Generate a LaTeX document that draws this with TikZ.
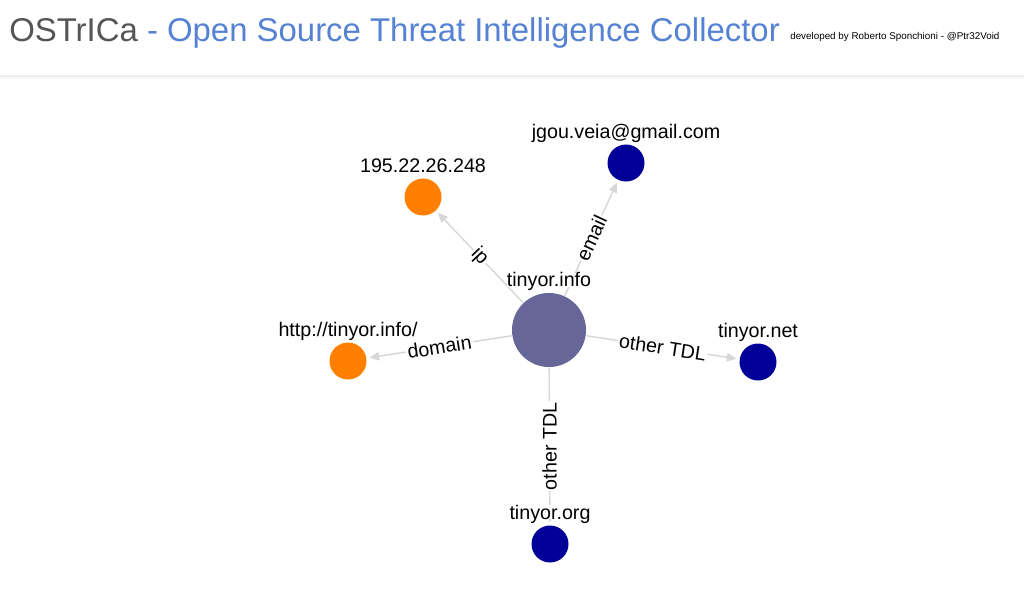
\documentclass[tikz,border=0pt]{standalone}
\usepackage{fontspec}
\setmainfont{Liberation Sans}
\usetikzlibrary{arrows.meta, positioning}
\definecolor{ostgray}{RGB}{85,85,85}
\definecolor{ostblue}{RGB}{86,130,212}
\definecolor{hubcol}{RGB}{102,102,153}
\definecolor{ipcol}{RGB}{255,128,0}
\definecolor{tldcol}{RGB}{0,0,153}
\definecolor{edgecol}{RGB}{215,215,215}

\begin{document}
\begin{tikzpicture}[x=0.025cm, y=-0.025cm, font=\fontsize{14}{16}\selectfont,
    hub/.style={circle, fill=hubcol, minimum size=1.85cm, inner sep=0pt},
    leaf/.style={circle, minimum size=0.925cm, inner sep=0pt},
    addr/.style={leaf, fill=ipcol},
    tld/.style={leaf, fill=tldcol},
    tag/.style={inner sep=0pt, text depth=0pt},
    link/.style={draw=edgecol, line width=1pt, -{Triangle[length=7pt, width=6pt]}, shorten >=2pt},
    rel/.style={fill=white, inner sep=1pt}]
    \fill[white] (0,0) rectangle (1024,592);
    \useasboundingbox (0,0) rectangle (1024,592);
    \fill[black!7] (0,75) rectangle (1024,77);
    \fill[black!3] (0,77) rectangle (1024,79);

    \node[tag, anchor=base west, font=\fontsize{23.4}{28}\selectfont] (title) at (9,41)
        {\textcolor{ostgray}{OSTrICa} \textcolor{ostblue}{- Open Source Threat Intelligence Collector}};
    \node[tag, anchor=base west, font=\fontsize{7}{8}\selectfont] (credit) at (790,39)
        {developed by Roberto Sponchioni - @Ptr32Void};

    \node[hub] (info) at (549,330) {};
    \node[addr] (ip) at (423,197) {};
    \node[tld] (mail) at (626,163) {};
    \node[addr] (url) at (348,361) {};
    \node[tld] (net) at (758,362) {};
    \node[tld] (org) at (550,544) {};

    \draw[link] (info) -- node[rel, sloped] {ip} (ip);
    \draw[link] (info) -- node[rel, sloped] {email} (mail);
    \draw[link] (info) -- node[rel, sloped] {domain} (url);
    \draw[link] (info) -- node[rel, sloped] {other TDL} (net);
    \draw[link] (info) -- node[rel, rotate=90] {other TDL} (org);

    \node[tag, fill=white, above=4pt of info] {tinyor.info};
    \node[tag, fill=white, above=4pt of ip] {195.22.26.248};
    \node[tag, fill=white, above=4pt of mail] {jgou.veia@gmail.com};
    \node[tag, fill=white, above=4pt of url] {http://tinyor.info/};
    \node[tag, fill=white, above=4pt of net] {tinyor.net};
    \node[tag, fill=white, above=4pt of org] {tinyor.org};
\end{tikzpicture}
\end{document}
